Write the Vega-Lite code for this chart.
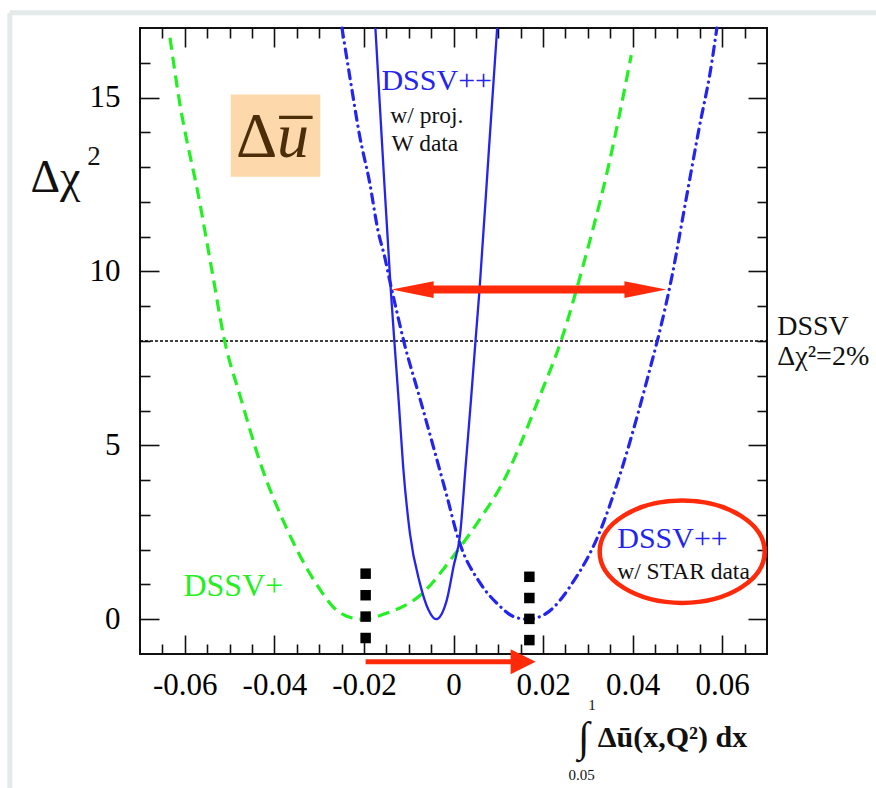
{
  "$schema": "https://vega.github.io/schema/vega-lite/v6.json",
  "width": 627,
  "height": 626,
  "autosize": "none",
  "padding": {"left": 140, "top": 28, "right": 109, "bottom": 134},
  "background": "white",
  "config": {"view": {"stroke": "#111", "strokeWidth": 2}},
  "datasets": {
    "green": [
      {"x": -0.0633, "y": 16.72}, {"x": -0.0613, "y": 14.98}, {"x": -0.0567, "y": 12.01},
      {"x": -0.0539, "y": 10.0}, {"x": -0.0511, "y": 8.0}, {"x": -0.0476, "y": 6.4},
      {"x": -0.0431, "y": 4.48}, {"x": -0.0371, "y": 2.57}, {"x": -0.0307, "y": 1.03},
      {"x": -0.0255, "y": 0.2}, {"x": -0.0205, "y": 0.0}, {"x": -0.015, "y": 0.17},
      {"x": -0.0075, "y": 0.68}, {"x": 0.0, "y": 1.82}, {"x": 0.006, "y": 2.9},
      {"x": 0.0105, "y": 3.81}, {"x": 0.0195, "y": 6.49}, {"x": 0.024, "y": 8.0},
      {"x": 0.0292, "y": 10.29}, {"x": 0.0345, "y": 12.97}, {"x": 0.0397, "y": 16.22}
    ],
    "solid": [
      {"x": -0.01744, "y": 17.0}, {"x": -0.01587, "y": 13.49}, {"x": -0.014, "y": 9.46},
      {"x": -0.0132, "y": 7.98}, {"x": -0.01225, "y": 6.3}, {"x": -0.01124, "y": 4.39},
      {"x": -0.00973, "y": 2.47}, {"x": -0.0075, "y": 1.03}, {"x": -0.0056, "y": 0.27},
      {"x": -0.0039, "y": 0.0}, {"x": -0.0015, "y": 0.55}, {"x": 0.0, "y": 1.51},
      {"x": 0.0015, "y": 2.47}, {"x": 0.0027, "y": 4.39}, {"x": 0.0039, "y": 6.3},
      {"x": 0.0049, "y": 7.98}, {"x": 0.0058, "y": 9.46}, {"x": 0.0079, "y": 13.49},
      {"x": 0.00975, "y": 17.0}
    ],
    "dashdot": [
      {"x": -0.0249, "y": 17.0}, {"x": -0.0228, "y": 15.32}, {"x": -0.021, "y": 13.93},
      {"x": -0.0187, "y": 12.54}, {"x": -0.0169, "y": 11.2}, {"x": -0.0153, "y": 10.38},
      {"x": -0.0142, "y": 9.71}, {"x": -0.0131, "y": 9.09}, {"x": -0.0111, "y": 7.99},
      {"x": -0.0075, "y": 6.35}, {"x": -0.0045, "y": 4.96}, {"x": -0.0015, "y": 3.55},
      {"x": 0.0011, "y": 2.3}, {"x": 0.006, "y": 1.03}, {"x": 0.01, "y": 0.42},
      {"x": 0.0135, "y": 0.07}, {"x": 0.0165, "y": 0.0}, {"x": 0.0205, "y": 0.15},
      {"x": 0.027, "y": 1.13}, {"x": 0.0322, "y": 2.37}, {"x": 0.0375, "y": 4.29},
      {"x": 0.0412, "y": 5.92}, {"x": 0.0442, "y": 7.36}, {"x": 0.0455, "y": 8.0},
      {"x": 0.0487, "y": 9.81}, {"x": 0.0517, "y": 11.91}, {"x": 0.0547, "y": 14.02},
      {"x": 0.0577, "y": 16.03}, {"x": 0.0588, "y": 17.0}
    ],
    "squares": [
      {"x": -0.01962, "y": 1.31}, {"x": -0.01962, "y": 0.69}, {"x": -0.01962, "y": 0.075}, {"x": -0.01962, "y": -0.54},
      {"x": 0.01694, "y": 1.22}, {"x": 0.01694, "y": 0.61}, {"x": 0.01694, "y": 0.01}, {"x": 0.01694, "y": -0.6}
    ]
  },
  "encoding": {
    "x": {"field": "x", "type": "quantitative", "scale": {"domain": [-0.07, 0.07], "nice": false, "zero": false}, "axis": null},
    "y": {"field": "y", "type": "quantitative", "scale": {"domain": [-1, 17], "nice": false, "zero": false}, "axis": null}
  },
  "layer": [
    {
      "data": {"values": [{"x": -0.09906, "x2": 0.0951, "y": 17.437}]},
      "mark": {"type": "rule", "color": "#e4e9e9", "strokeWidth": 5},
      "encoding": {"x2": {"field": "x2"}}
    },
    {
      "data": {"values": [{"x": -0.09906, "y": 17.437, "y2": -4.9}]},
      "mark": {"type": "rule", "color": "#e4e9e9", "strokeWidth": 5},
      "encoding": {"y2": {"field": "y2"}}
    },
    {
      "data": {"values": [{"x": -0.04973, "x2": -0.02975, "y": 15.09, "y2": 12.72}]},
      "mark": {"type": "rect", "color": "#fcd8aa"},
      "encoding": {"x2": {"field": "x2"}, "y2": {"field": "y2"}}
    },
    {
      "data": {"values": [{"x": -0.04854, "y": 13.3, "t": "Δ"}]},
      "mark": {"type": "text", "align": "left", "baseline": "alphabetic", "font": "Liberation Serif", "fontSize": 64, "color": "#4b2d09"},
      "encoding": {"text": {"field": "t"}}
    },
    {
      "data": {"values": [{"x": -0.0394, "y": 13.3, "t": "u"}]},
      "mark": {"type": "text", "align": "left", "baseline": "alphabetic", "font": "Liberation Serif", "fontSize": 64, "fontStyle": "italic", "color": "#4b2d09"},
      "encoding": {"text": {"field": "t"}}
    },
    {
      "data": {"values": [{"x": -0.03894, "x2": -0.03146, "y": 14.43}]},
      "mark": {"type": "rule", "color": "#4b2d09", "strokeWidth": 3.3},
      "encoding": {"x2": {"field": "x2"}}
    },
    {
      "data": {"values": [{"x": -0.07, "x2": 0.07, "y": 8}]},
      "mark": {"type": "rule", "color": "#000", "strokeWidth": 1.5, "strokeDash": [3, 2]},
      "encoding": {"x2": {"field": "x2"}}
    },
    {
      "data": {"name": "green"},
      "mark": {"type": "line", "color": "#22f022", "strokeWidth": 3.2, "strokeDash": [12, 7], "interpolate": "monotone"},
      "encoding": {
        "x": {"field": "x", "type": "quantitative", "scale": {"domain": [-0.07, 0.07], "nice": false, "zero": false},
          "axis": {"orient": "bottom", "title": null, "domain": false, "grid": false,
            "values": [-0.065, -0.06, -0.055, -0.05, -0.045, -0.04, -0.035, -0.03, -0.025, -0.02, -0.015, -0.01, -0.005, 0, 0.005, 0.01, 0.015, 0.02, 0.025, 0.03, 0.035, 0.04, 0.045, 0.05, 0.055, 0.06, 0.065],
            "tickSize": {"condition": {"test": "abs(datum.value*50 - round(datum.value*50)) < 0.01", "value": -19}, "value": -10},
            "tickColor": "#111", "tickWidth": 1.6,
            "labelExpr": "abs(datum.value*50 - round(datum.value*50)) < 0.01 ? '' + datum.value : ''",
            "labelFont": "Liberation Serif", "labelFontSize": 31, "labelColor": "#000", "labelPadding": 35,
            "labelOverlap": false, "labelFlush": false, "labelBound": false}},
        "y": {"field": "y", "type": "quantitative", "scale": {"domain": [-1, 17], "nice": false, "zero": false},
          "axis": {"orient": "left", "title": null, "domain": false, "grid": false,
            "values": [0, 1, 2, 3, 4, 5, 6, 7, 8, 9, 10, 11, 12, 13, 14, 15, 16],
            "tickSize": {"condition": {"test": "datum.value % 5 == 0", "value": -19}, "value": -10},
            "tickColor": "#111", "tickWidth": 1.6,
            "labelExpr": "datum.value % 5 == 0 ? '' + datum.value : ''",
            "labelFont": "Liberation Serif", "labelFontSize": 31, "labelColor": "#000", "labelPadding": 39,
            "labelOverlap": false, "labelFlush": false, "labelBound": false}}
      }
    },
    {
      "data": {"name": "solid"},
      "mark": {"type": "line", "color": "#2424f0", "strokeWidth": 2.3, "interpolate": "monotone"},
      "encoding": {
        "x": {"field": "x", "type": "quantitative", "scale": {"domain": [-0.07, 0.07], "nice": false, "zero": false},
          "axis": {"orient": "top", "title": null, "domain": false, "grid": false, "labels": false,
            "values": [-0.065, -0.06, -0.055, -0.05, -0.045, -0.04, -0.035, -0.03, -0.025, -0.02, -0.015, -0.01, -0.005, 0, 0.005, 0.01, 0.015, 0.02, 0.025, 0.03, 0.035, 0.04, 0.045, 0.05, 0.055, 0.06, 0.065],
            "tickSize": {"condition": {"test": "abs(datum.value*50 - round(datum.value*50)) < 0.01", "value": -19}, "value": -10},
            "tickColor": "#111", "tickWidth": 1.6}},
        "y": {"field": "y", "type": "quantitative", "scale": {"domain": [-1, 17], "nice": false, "zero": false},
          "axis": {"orient": "right", "title": null, "domain": false, "grid": false, "labels": false,
            "values": [0, 1, 2, 3, 4, 5, 6, 7, 8, 9, 10, 11, 12, 13, 14, 15, 16],
            "tickSize": {"condition": {"test": "datum.value % 5 == 0", "value": -19}, "value": -10},
            "tickColor": "#111", "tickWidth": 1.6}}
      }
    },
    {
      "data": {"name": "dashdot"},
      "mark": {"type": "line", "color": "#2424f0", "strokeWidth": 3.2, "strokeDash": [9, 6, 0.1, 6], "strokeCap": "round", "interpolate": "monotone"}
    },
    {
      "data": {"name": "squares"},
      "mark": {"type": "square", "color": "#000", "size": 110, "opacity": 1, "filled": true}
    },
    {
      "data": {"values": [{"x": -0.005, "x2": 0.039, "y": 9.48}]},
      "mark": {"type": "rule", "color": "#ff2a0a", "strokeWidth": 8},
      "encoding": {"x2": {"field": "x2"}}
    },
    {
      "data": {"values": [{"x": -0.00912, "y": 9.48}]},
      "mark": {"type": "point", "shape": "M-1,0L1,-0.4L1,0.4Z", "size": 1764, "filled": true, "color": "#ff2a0a", "opacity": 1}
    },
    {
      "data": {"values": [{"x": 0.04285, "y": 9.48}]},
      "mark": {"type": "point", "shape": "M1,0L-1,-0.4L-1,0.4Z", "size": 1764, "filled": true, "color": "#ff2a0a", "opacity": 1}
    },
    {
      "data": {"values": [{"x": -0.01962, "x2": 0.0135, "y": -1.22}]},
      "mark": {"type": "rule", "color": "#ff2a0a", "strokeWidth": 5},
      "encoding": {"x2": {"field": "x2"}}
    },
    {
      "data": {"values": [{"x": 0.01555, "y": -1.22}]},
      "mark": {"type": "point", "shape": "M1,0L-1,-1L-1,1Z", "size": 625, "filled": true, "color": "#ff2a0a", "opacity": 1}
    },
    {
      "data": {"values": [{"x": 0.05106, "y": 1.94}]},
      "mark": {"type": "point", "shape": "M-1,0C-1,-0.3424 -0.5523,-0.62 0,-0.62C0.5523,-0.62 1,-0.3424 1,0C1,0.3424 0.5523,0.62 0,0.62C-0.5523,0.62 -1,0.3424 -1,0Z", "size": 27225, "filled": false, "color": "#ff2a0a", "strokeWidth": 4.5, "opacity": 1}
    },
    {
      "data": {"values": [{"x": -0.01609, "y": 15.22, "t": "DSSV++"}, {"x": 0.03656, "y": 2.04, "t": "DSSV++"}]},
      "mark": {"type": "text", "align": "left", "baseline": "alphabetic", "font": "Liberation Serif", "fontSize": 30, "color": "#2424f0"},
      "encoding": {"text": {"field": "t"}}
    },
    {
      "data": {"values": [{"x": -0.0141, "y": 14.28, "t": "w/ proj."}, {"x": -0.01384, "y": 13.45, "t": "W data"}, {"x": 0.03656, "y": 1.15, "t": "w/ STAR data"}]},
      "mark": {"type": "text", "align": "left", "baseline": "alphabetic", "font": "Liberation Serif", "fontSize": 23.5, "color": "#111"},
      "encoding": {"text": {"field": "t"}}
    },
    {
      "data": {"values": [{"x": -0.0603, "y": 0.67, "t": "DSSV+"}]},
      "mark": {"type": "text", "align": "left", "baseline": "alphabetic", "font": "Liberation Serif", "fontSize": 32, "color": "#22f022"},
      "encoding": {"text": {"field": "t"}}
    },
    {
      "data": {"values": [{"x": 0.07229, "y": 8.17, "t": "DSSV"}, {"x": 0.07229, "y": 7.31, "t": "Δχ²=2%"}]},
      "mark": {"type": "text", "align": "left", "baseline": "alphabetic", "font": "Liberation Serif", "fontSize": 28, "color": "#111"},
      "encoding": {"text": {"field": "t"}}
    },
    {
      "data": {"values": [{"x": -0.09445, "y": 12.29, "t": "Δχ"}]},
      "mark": {"type": "text", "align": "left", "baseline": "alphabetic", "font": "Liberation Serif", "fontSize": 46, "color": "#111"},
      "encoding": {"text": {"field": "t"}}
    },
    {
      "data": {"values": [{"x": -0.0818, "y": 13.05, "t": "2"}]},
      "mark": {"type": "text", "align": "left", "baseline": "alphabetic", "font": "Liberation Serif", "fontSize": 27, "color": "#111"},
      "encoding": {"text": {"field": "t"}}
    },
    {
      "data": {"values": [{"x": 0.0291, "y": -3.42, "t": "∫"}]},
      "mark": {"type": "text", "align": "center", "baseline": "middle", "font": "Liberation Serif", "fontSize": 42, "color": "#111"},
      "encoding": {"text": {"field": "t"}}
    },
    {
      "data": {"values": [{"x": 0.0309, "y": -2.6, "t": "1"}, {"x": 0.0286, "y": -4.62, "t": "0.05"}]},
      "mark": {"type": "text", "align": "center", "baseline": "alphabetic", "font": "Liberation Serif", "fontSize": 15, "color": "#111"},
      "encoding": {"text": {"field": "t"}}
    },
    {
      "data": {"values": [{"x": 0.0322, "y": -3.66, "t": "Δū(x,Q²) dx"}]},
      "mark": {"type": "text", "align": "left", "baseline": "alphabetic", "font": "Liberation Serif", "fontSize": 30, "fontWeight": "bold", "color": "#111"},
      "encoding": {"text": {"field": "t"}}
    }
  ],
  "resolve": {"axis": {"x": "independent", "y": "independent"}}
}
